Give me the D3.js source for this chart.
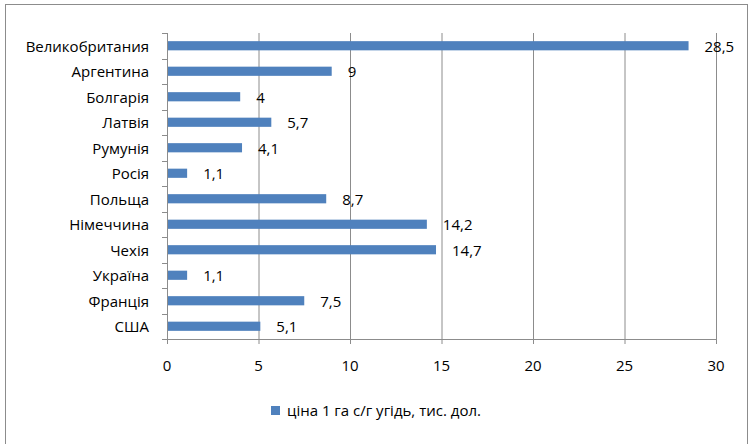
<!DOCTYPE html>
<html lang="uk">
<head>
    <meta charset="UTF-8">
    <title>Ціна 1 га с/г угідь</title>
    <style>
        body {
            margin: 0;
            background: #fff;
            font-family: "Open Sans", "Noto Sans", sans-serif;
        }
        svg text {
            fill: #000;
        }
    </style>
</head>
<body>
    <svg width="754" height="444"></svg>
    <script src="https://d3js.org/d3.v7.min.js"></script>
    <script>
        const countries = ["Великобритания", "Аргентина", "Болгарія", "Латвія", "Румунія", "Росія",
            "Польща", "Німеччина", "Чехія", "Україна", "Франція", "США"];
        const prices = [28.5, 9, 4, 5.7, 4.1, 1.1, 8.7, 14.2, 14.7, 1.1, 7.5, 5.1];
        const xTicks = [0, 5, 10, 15, 20, 25, 30];
        const seriesName = "ціна 1 га с/г угідь, тис. дол.";

        const svg = d3.select("svg");
        const margin = {top: 33, left: 167, right: 38, bottom: 105};
        const innerWidth = 754 - margin.left - margin.right;
        const innerHeight = 444 - margin.top - margin.bottom;

        // chart border (runs below the window like in the source)
        svg.append("rect")
            .attr("x", 5.5).attr("y", 4.5)
            .attr("width", 742).attr("height", 460)
            .attr("fill", "none")
            .attr("stroke", "#8c8c8c")
            .attr("stroke-width", 1);

        const x = d3.scaleLinear().domain([0, 30]).range([0, innerWidth]);
        const y = d3.scaleBand().domain(countries).range([0, innerHeight]).paddingInner(0.64).paddingOuter(0.32);

        const g = svg.append("g")
            .attr("transform", `translate(${margin.left},${margin.top})`);

        // vertical gridlines
        g.selectAll(".grid")
            .data(xTicks.slice(1))
            .enter().append("line")
            .attr("x1", d => x(d) + 0.5).attr("x2", d => x(d) + 0.5)
            .attr("y1", 0).attr("y2", innerHeight)
            .attr("stroke", "#8c8c8c");

        g.selectAll(".bar")
            .data(prices)
            .enter().append("rect")
            .attr("x", 0)
            .attr("y", (d, i) => y(countries[i]))
            .attr("width", d => x(d))
            .attr("height", y.bandwidth())
            .attr("fill", "#4f81bd");

        g.selectAll(".val")
            .data(prices)
            .enter().append("text")
            .attr("x", d => x(d) + 16)
            .attr("y", (d, i) => y(countries[i]) + y.bandwidth() / 2 + 6)
            .attr("font-size", 15)
            .text(d => String(d).replace(".", ","));

        // y axis
        const step = innerHeight / countries.length;
        g.append("line")
            .attr("x1", 0.5).attr("x2", 0.5).attr("y1", 0).attr("y2", innerHeight + 5)
            .attr("stroke", "#8c8c8c");
        g.selectAll(".ytick")
            .data(d3.range(countries.length + 1))
            .enter().append("line")
            .attr("x1", -5).attr("x2", 0)
            .attr("y1", d => Math.round(d * step) + 0.5)
            .attr("y2", d => Math.round(d * step) + 0.5)
            .attr("stroke", "#8c8c8c");
        g.selectAll(".ylab")
            .data(countries)
            .enter().append("text")
            .attr("x", -18)
            .attr("y", d => y(d) + y.bandwidth() / 2 + 6)
            .attr("text-anchor", "end")
            .attr("font-size", 15)
            .text(d => d);

        // x axis
        g.append("line")
            .attr("x1", -5).attr("x2", innerWidth).attr("y1", innerHeight + 0.5).attr("y2", innerHeight + 0.5)
            .attr("stroke", "#8c8c8c");
        g.selectAll(".xtick")
            .data(xTicks)
            .enter().append("line")
            .attr("x1", d => x(d) + 0.5).attr("x2", d => x(d) + 0.5)
            .attr("y1", innerHeight).attr("y2", innerHeight + 5)
            .attr("stroke", "#8c8c8c");
        g.selectAll(".xlab")
            .data(xTicks)
            .enter().append("text")
            .attr("x", d => x(d))
            .attr("y", innerHeight + 32)
            .attr("text-anchor", "middle")
            .attr("font-size", 15)
            .text(d => d);

        // legend
        const legend = svg.append("g").attr("transform", "translate(271,406)");
        legend.append("rect").attr("width", 9).attr("height", 9).attr("fill", "#4f81bd");
        legend.append("text").attr("x", 16).attr("y", 10).attr("font-size", 15).text(seriesName);
    </script>
</body>
</html>
